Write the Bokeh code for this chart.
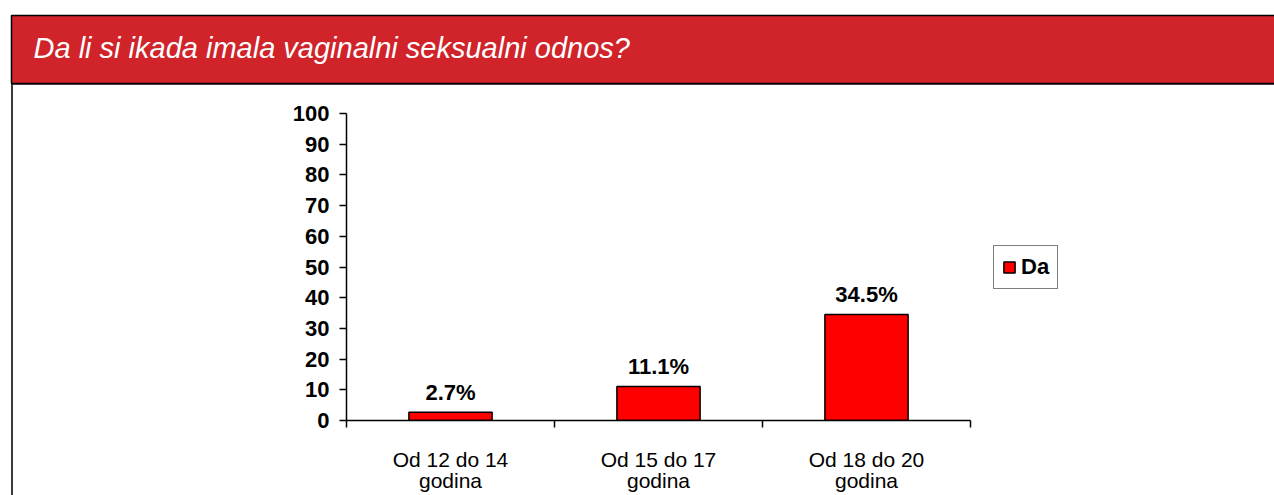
from bokeh.plotting import figure
from bokeh.models import (Range1d, FixedTicker, Title, Legend,
                          LegendItem, ColumnDataSource, LinearAxis)
from bokeh.embed import file_html
from bokeh.resources import INLINE
from bokeh.core.properties import value

# ---- data ----
title_text = "Da li si ikada imala vaginalni seksualni odnos?"
categories = ["Od 12 do 14\ngodina", "Od 15 do 17\ngodina", "Od 18 do 20\ngodina"]
da_values = [2.7, 11.1, 34.5]
series_name = "Da"
y_ticks = [0, 10, 20, 30, 40, 50, 60, 70, 80, 90, 100]

FONT = "Liberation Sans"
W, H = 1274, 495
AXIS_LEFT, AXIS_RIGHT = 346, 970          # pixel extent of the category axis
AXIS_TOP, AXIS_BOTTOM = 113, 420          # pixel extent of the value axis (100 .. 0)
FRAME_TOP = 83                            # plot area starts right under the header band
FRAME_W = W - AXIS_LEFT                   # frame runs to the right edge (legend lives there)
n = len(categories)
y_max = 100

xs = [i + 0.5 for i in range(n)]
src = ColumnDataSource(dict(x=xs, top=da_values,
                            label=[f"{v:.1f}%" for v in da_values]))

p = figure(width=W, height=H, output_backend="svg", toolbar_location=None,
           x_range=Range1d(0, n * FRAME_W / (AXIS_RIGHT - AXIS_LEFT)),
           y_range=Range1d(0, y_max * (AXIS_BOTTOM - FRAME_TOP) / (AXIS_BOTTOM - AXIS_TOP)),
           x_axis_type=None, y_axis_type=None,
           min_border_left=AXIS_LEFT, min_border_right=0,
           min_border_top=FRAME_TOP, min_border_bottom=H - AXIS_BOTTOM)
p.outline_line_color = None
p.grid.visible = False
p.background_fill_alpha = 0
p.border_fill_alpha = 0
# page frame lines (left border and grey rule under the header), CSS background
p.styles = {"background": (
    "linear-gradient(#3a3a3a, #3a3a3a) 11px 84px / 2px 411px no-repeat, "
    "linear-gradient(#555555, #555555) 11px 84px / 1263px 1px no-repeat, white")}

# header band = padded title box
p.title = Title(text=title_text, align="left", offset=11 - AXIS_LEFT,
                vertical_align="bottom", text_baseline="bottom",
                text_color="white", text_font=FONT, text_font_style="italic",
                text_font_size="29px", background_fill_color="#D0232A",
                background_fill_alpha=1, border_line_color="black",
                border_line_width=1.5, standoff=0,
                padding=dict(left=22, right=2000, top=16, bottom=20))

bars = p.vbar(x="x", top="top", width=0.4, source=src,
              fill_color="#FF0000", line_color="black", line_width=1.5)

p.text(x="x", y="top", text="label", source=src, text_align="center",
       text_baseline="alphabetic", y_offset=-20, text_font=value(FONT),
       text_font_style="bold", text_font_size="22px", text_color="black")

xaxis = LinearAxis(
    ticker=FixedTicker(ticks=xs, minor_ticks=list(range(n + 1))),
    bounds=(0, n),
    major_label_overrides={x: c for x, c in zip(xs, categories)},
    major_tick_in=0, major_tick_out=0, minor_tick_in=0, minor_tick_out=7,
    minor_tick_line_color="black", minor_tick_line_width=1.5,
    axis_line_color="black", axis_line_width=1.5,
    major_label_text_font=FONT, major_label_text_font_size="21px",
    major_label_text_color="black", major_label_standoff=20,
    major_label_text_line_height=0.95)
p.add_layout(xaxis, "below")

yaxis = LinearAxis(
    ticker=FixedTicker(ticks=y_ticks), bounds=(0, y_max),
    major_tick_in=0, major_tick_out=7, minor_tick_in=0, minor_tick_out=0,
    major_tick_line_color="black", major_tick_line_width=1.5,
    axis_line_color="black", axis_line_width=1.5,
    major_label_text_font=FONT, major_label_text_font_size="22px",
    major_label_text_font_style="bold", major_label_text_color="black",
    major_label_standoff=10)
p.add_layout(yaxis, "left")

legend = Legend(items=[LegendItem(label=series_name, renderers=[bars])],
                location=(993 - AXIS_LEFT, AXIS_BOTTOM - 289), border_line_color="black",
                border_line_width=1.5, background_fill_color="white",
                background_fill_alpha=1, padding=8, margin=0, spacing=0,
                glyph_width=14, glyph_height=14, label_standoff=5,
                label_text_font=FONT, label_text_font_size="22px",
                label_text_font_style="bold", label_text_color="black")
p.add_layout(legend)

open("out.html", "w").write(file_html(p, INLINE))
